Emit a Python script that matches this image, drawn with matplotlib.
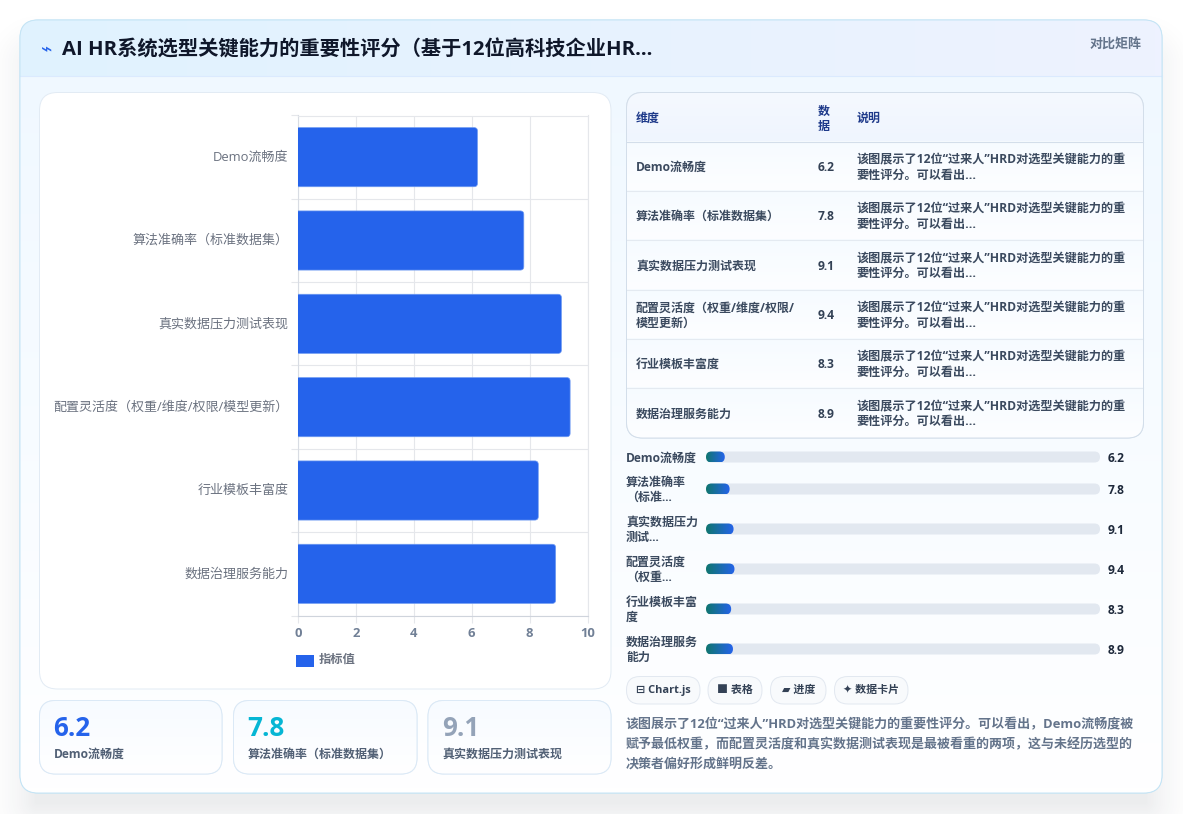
import numpy as np
import matplotlib
matplotlib.use("Agg")
import matplotlib.pyplot as plt
from matplotlib.colors import LinearSegmentedColormap, to_rgb
from matplotlib.patches import FancyBboxPatch, Rectangle
from matplotlib.transforms import ScaledTranslation

plt.rcParams["font.family"] = ["Open Sans", "Noto Sans CJK SC", "DejaVu Sans"]

W, H = 1183, 814

# ---- data ---------------------------------------------------------------
categories = ["Demo流畅度", "算法准确率（标准数据集）", "真实数据压力测试表现",
              "配置灵活度（权重/维度/权限/模型更新）", "行业模板丰富度", "数据治理服务能力"]
values = [6.2, 7.8, 9.1, 9.4, 8.3, 8.9]
x_ticks = [0, 2, 4, 6, 8, 10]

table_headers = ["维度", "数\n据", "说明"]
table_names = ["Demo流畅度", "算法准确率（标准数据集）", "真实数据压力测试表现",
               "配置灵活度（权重/维度/权限/\n模型更新）", "行业模板丰富度", "数据治理服务能力"]
table_note = "该图展示了12位“过来人”HRD对选型关键能力的重\n要性评分。可以看出..."

progress_labels = ["Demo流畅度", "算法准确率\n（标准...", "真实数据压力\n测试...",
                   "配置灵活度\n（权重...", "行业模板丰富\n度", "数据治理服务\n能力"]
progress_max = 130

chips = ["⊟ Chart.js", "■ 表格", "▰ 进度", "✦ 数据卡片"]
kpi_colors = ["#2563eb", "#06b6d4", "#94a3b8"]
summary = ["该图展示了12位“过来人”HRD对选型关键能力的重要性评分。可以看出，Demo流畅度被",
           "赋予最低权重，而配置灵活度和真实数据测试表现是最被看重的两项，这与未经历选型的",
           "决策者偏好形成鲜明反差。"]

fig = plt.figure(figsize=(W / 100, H / 100), dpi=100, facecolor="white")

# page layer in pixel coordinates, y pointing down
bg = fig.add_axes([0, 0, 1, 1])
bg.set_xlim(0, W)
bg.set_ylim(H, 0)
bg.axis("off")


def px(size):
    return size * 0.72


def rbox(x0, y0, x1, y1, r, fc="white", ec="none", lw=0.7, z=2):
    p = FancyBboxPatch((x0, y0), x1 - x0, y1 - y0,
                       boxstyle=f"round,pad=0,rounding_size={r}",
                       fc=fc, ec=ec, lw=lw, zorder=z)
    bg.add_patch(p)
    return p


def gradient(x0, y0, x1, y1, c0, c1, vertical=True, clip=None, z=2):
    cmap = LinearSegmentedColormap.from_list("g", [c0, c1])
    g = np.linspace(0, 1, 256)
    g = g[:, None] if vertical else g[None, :]
    im = bg.imshow(g, extent=(x0, x1, y1, y0), cmap=cmap, vmin=0, vmax=1,
                   aspect="auto", zorder=z, interpolation="bilinear")
    if clip is not None:
        im.set_clip_path(clip)
    return im


def label(x, y, s, size, color, weight="normal", ha="left", va="center", z=6, **kw):
    return bg.text(x, y, s, fontsize=px(size), color=color, fontweight=weight,
                   ha=ha, va=va, zorder=z, **kw)


# soft drop shadow under the card
yy, xx = np.mgrid[0:H, 0:W]
cx, cy, hw, hh, rad = 591, 421, 571 - 18, 386 - 18, 18
qx = np.abs(xx + 0.5 - cx) - hw
qy = np.abs(yy + 0.5 - (cy + 12)) - hh
dist = np.hypot(np.maximum(qx, 0), np.maximum(qy, 0)) + np.minimum(np.maximum(qx, qy), 0) - rad
alpha = 0.085 * np.clip(1 - (dist + 16) / 60, 0, 1) ** 2
shadow = np.ones((H, W, 4))
shadow[..., :3] = to_rgb("#1e293b")
shadow[..., 3] = alpha
bg.imshow(shadow, extent=(0, W, H, 0), aspect="auto", zorder=0, interpolation="nearest")
bg.set_xlim(0, W)
bg.set_ylim(H, 0)

# card body and header band
card = rbox(20, 20, 1162, 793, 18, fc="white", ec="#c4e4f5", z=1)
gradient(20, 20, 1162, 793, "#eff8ff", "#ffffff", clip=card, z=1.5)
gradient(20, 20, 1162, 76, "#e0f2fe", "#eef2ff", vertical=False, clip=card, z=1.6)
bg.plot([20, 1162], [76, 76], color="#dbeafe", lw=0.8, zorder=1.7)
rbox(20, 20, 1162, 793, 18, fc="none", ec="#c4e4f5", z=1.8)

label(47, 50, "⌁", 19, "#2563eb", ha="center")
label(62, 50, "AI HR系统选型关键能力的重要性评分（基于12位高科技企业HR...", 20.25, "#0f172a", "bold")
label(1142, 44, "对比矩阵", 13, "#64748b", "bold", ha="right")

# chart panel
rbox(39.5, 92.5, 611, 689, 18, fc="white", ec="#e2ebf4")

# bar chart on its own axes
ax = fig.add_axes([298 / W, 1 - 615.5 / H, 289.5 / W, 500 / H], facecolor="none")
y_pos = np.arange(len(categories))
bar_h = 0.71
corner = 0.12
ax.set_xlim(0, 10)
ax.set_ylim(len(categories) - 0.5, -0.5)
aspect = (ax.get_position().height * H / 6) / (ax.get_position().width * W / 10)
for y, v in zip(y_pos, values):
    # start left of zero so only the right-hand corners show rounded
    ax.add_patch(FancyBboxPatch((-0.5, y - bar_h / 2), v + 0.5, bar_h,
                                boxstyle=f"round,pad=0,rounding_size={corner}",
                                mutation_aspect=1 / aspect,
                                fc="#2563eb", ec="#6f9bf2", lw=0.5, zorder=3))
ax.set_xticks(x_ticks)
ax.set_xticklabels([str(t) for t in x_ticks], fontsize=px(13), color="#718096", fontweight="bold")
ax.set_yticks(y_pos)
ax.set_yticklabels(categories, fontsize=px(13), color="#6b7280")
ax.set_yticks(np.arange(-0.5, len(categories)), minor=True)
ax.tick_params(axis="y", which="major", length=0, pad=7)
ax.tick_params(axis="y", which="minor", length=7 * 0.72, width=0.8, color="#e5e7eb")
ax.tick_params(axis="x", which="major", length=7 * 0.72, width=0.8, color="#e5e7eb", pad=3.5)
ax.grid(True, axis="x", which="major", color="#e5e7eb", lw=0.8, zorder=1)
ax.grid(True, axis="y", which="minor", color="#e5e7eb", lw=0.8, zorder=1)
ax.set_axisbelow(True)
for side in ["top", "right"]:
    ax.spines[side].set_color("#e5e7eb")
    ax.spines[side].set_linewidth(0.8)
ax.spines["left"].set_color("#d8dce3")
ax.spines["bottom"].set_color("#cfd4dc")
ax.spines["left"].set_linewidth(0.8)
ax.spines["bottom"].set_linewidth(0.8)
nudge = ScaledTranslation(0, 1.5 / 100, fig.dpi_scale_trans)
for t in ax.get_yticklabels():
    t.set_transform(t.get_transform() + nudge)

# chart legend
bg.add_patch(Rectangle((296, 655), 18, 12, fc="#2563eb", ec="none", zorder=4))
label(319, 659.5, "指标值", 12.3, "#6b7280", "bold")

# stat cards
kpi_boxes = [(39.5, 222), (233.5, 417), (428, 611)]
for (x0, x1), v, name, col in zip(kpi_boxes, values, categories, kpi_colors):
    box = rbox(x0, 700.5, x1, 774, 16, fc="white", ec="#dbe9f6", z=2)
    gradient(x0, 700.5, x1, 774, "#f7fbff", "#ffffff", clip=box, z=2.1)
    rbox(x0, 700.5, x1, 774, 16, fc="none", ec="#dbe9f6", z=2.2)
    label(x0 + 14, 728.5, f"{v}", 26, col, "bold")
    label(x0 + 14, 754, name, 12, "#516075", "bold")

# table
row_edges = [92.5, 141.5, 190.5, 239.5, 289.5, 338.5, 387.5, 438]
tbl = rbox(626.5, 92.5, 1143.5, 438, 16, fc="white", ec="#d3deea", z=2)
gradient(626.5, row_edges[0], 1143.5, row_edges[1], "#f5f9ff", "#eff5fe", clip=tbl, z=2.1)
for i in range(6):
    gradient(626.5, row_edges[i + 1], 1143.5, row_edges[i + 2], "#f6fbff", "#fdfeff", clip=tbl, z=2.1)
for y in row_edges[1:-1]:
    bg.plot([627, 1143], [y, y], color="#d3deea" if y == row_edges[1] else "#e4eaf1", lw=0.8, zorder=2.3)
rbox(626.5, 92.5, 1143.5, 438, 16, fc="none", ec="#d3deea", z=2.4)

label(636, 118.5, table_headers[0], 12, "#1e3a8a", "bold")
label(818, 118.5, table_headers[1], 12, "#1e3a8a", "bold", linespacing=1.2)
label(857, 118.5, table_headers[2], 12, "#1e3a8a", "bold")
for i, (name, v) in enumerate(zip(table_names, values)):
    yc = (row_edges[i + 1] + row_edges[i + 2]) / 2 + 1.5
    label(636, yc, name, 12, "#3b4a5f", "bold", linespacing=1.2)
    label(818, yc, f"{v}", 12, "#334155", "bold")
    label(857, yc, table_note, 12.1, "#3b4a5f", "bold", linespacing=1.2)

# progress rows
track_x0, track_x1 = 706, 1100
track_ys = [457, 489, 529, 569, 609, 649]
for y, name, v in zip(track_ys, progress_labels, values):
    label(626, y + 1, name, 12, "#3b4a5f", "bold", linespacing=1.2)
    rbox(track_x0, y - 5.5, track_x1, y + 5.5, 5.5, fc="#e2e8f0", z=2)
    w = (track_x1 - track_x0) * v / progress_max
    fill = rbox(track_x0, y - 5.5, track_x0 + w, y + 5.5, 5.5, fc="none", z=2.1)
    gradient(track_x0, y - 5.5, track_x0 + w, y + 5.5, "#0f766e", "#2563eb",
             vertical=False, clip=fill, z=2.2)
    label(1108, y + 1, f"{v}", 12, "#1e293b", "bold")

# pill tags
chip_boxes = [(626.5, 700), (708, 762), (770.5, 826), (834.5, 908)]
for (x0, x1), s in zip(chip_boxes, chips):
    rbox(x0, 676.5, x1, 704, 13.5, fc="#f8fafc", ec="#e2e8f0", z=2)
    label((x0 + x1) / 2, 690, s, 11, "#334155", "bold", ha="center")

# closing summary
for y, s in zip([725, 745, 765], summary):
    label(626, y, s, 13, "#64748b", "bold")

fig.savefig("out.png", dpi=100)
